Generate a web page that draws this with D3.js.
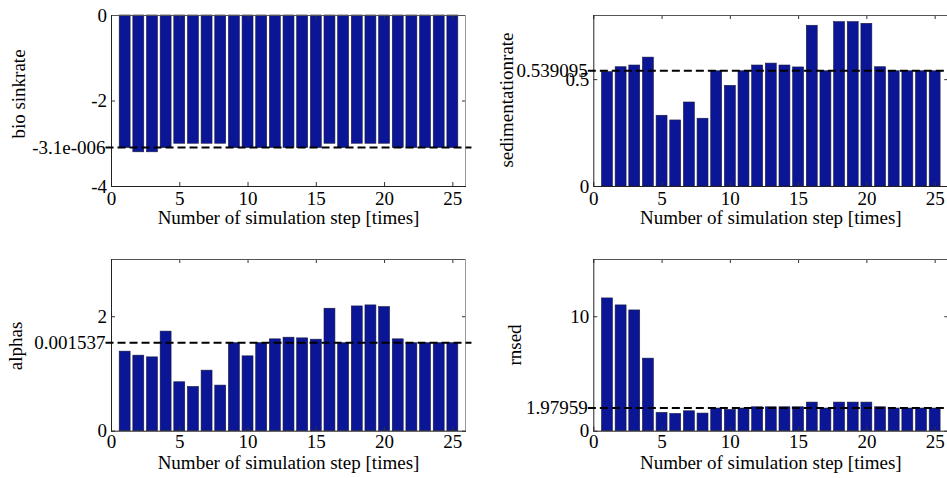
<!DOCTYPE html>
<html>
<head>
<meta charset="utf-8">
<script src="https://cdn.jsdelivr.net/npm/d3@7"></script>
<style>
  html, body { margin: 0; padding: 0; background: #fff; }
  svg { display: block; }
  svg text { font-family: "Times New Roman", "Liberation Serif", "DejaVu Serif", serif !important; fill: #000; }
</style>
</head>
<body>
<svg id="chart" width="947" height="478"></svg>
<script>
// Simulation steps 1..25
const steps = d3.range(1, 26);
const xTicks = [0, 5, 10, 15, 20, 25];
const xLabel = "Number of simulation step [times]";

// bio sinkrate (stored in real units, axis shows multiples of 1e-6)
const bioSinkrate = [-3.1e-6, -3.2e-6, -3.2e-6, -3.1e-6, -3.0e-6, -3.0e-6, -3.0e-6, -3.0e-6, -3.1e-6, -3.1e-6,
                     -3.1e-6, -3.1e-6, -3.1e-6, -3.1e-6, -3.1e-6, -3.0e-6, -3.1e-6, -3.0e-6, -3.0e-6, -3.0e-6,
                     -3.1e-6, -3.1e-6, -3.1e-6, -3.1e-6, -3.1e-6];
const bioTicks = [0, -2e-6, -4e-6];
const bioTickLabels = ["0", "-2", "-4"];
const bioFinal = -3.1e-6, bioFinalLabel = "-3.1e-006";

// sedimentation rate
const sedimentationrate = [0.535, 0.558, 0.566, 0.603, 0.331, 0.309, 0.393, 0.317, 0.539095, 0.471,
                           0.539095, 0.566, 0.575, 0.566, 0.557, 0.752, 0.539095, 0.769, 0.769, 0.761,
                           0.558, 0.539095, 0.539095, 0.539095, 0.539095];
const sedTicks = [0, 0.5];
const sedTickLabels = ["0", "0.5"];
const sedFinal = 0.539095, sedFinalLabel = "0.539095";

// alphas (real units, axis shows multiples of 1e-3)
const alphas = [1.39e-3, 1.32e-3, 1.29e-3, 1.74e-3, 0.855e-3, 0.773e-3, 1.058e-3, 0.797e-3, 1.537e-3, 1.308e-3,
                1.537e-3, 1.605e-3, 1.634e-3, 1.622e-3, 1.599e-3, 2.14e-3, 1.537e-3, 2.18e-3, 2.198e-3, 2.169e-3,
                1.605e-3, 1.537e-3, 1.537e-3, 1.537e-3, 1.537e-3];
const alphaTicks = [0, 2e-3];
const alphaTickLabels = ["0", "2"];
const alphaFinal = 0.001537, alphaFinalLabel = "0.001537";

// sediment error
const rnsed = [11.6, 10.99, 10.55, 6.34, 1.60, 1.51, 1.74, 1.54, 1.97959, 1.86,
               1.97959, 2.09, 2.09, 2.09, 2.09, 2.5, 1.97959, 2.5, 2.5, 2.5,
               2.09, 1.97959, 1.97959, 1.97959, 1.97959];
const rnsedTicks = [0, 10];
const rnsedTickLabels = ["0", "10"];
const rnsedFinal = 1.97959, rnsedFinalLabel = "1.97959";

const svg = d3.select("#chart");
const FONT = 19;
const FAMILY = '"Times New Roman", "Liberation Serif", "DejaVu Serif", serif';
const BAR_FILL = "#0a1696";

function drawPanel(p) {
  const g = svg.append("g").attr("transform", `translate(${p.left},${p.top})`);
  const x = d3.scaleLinear().domain([0, 26]).range([0, p.width]);
  const y = d3.scaleLinear().domain(p.yDomain).range([p.height, 0]);

  // bars
  g.append("g").selectAll("rect").data(p.values).join("rect")
    .attr("x", (d, i) => x(steps[i] - 0.4))
    .attr("width", x(0.8) - x(0))
    .attr("y", d => Math.min(y(0), y(d)))
    .attr("height", d => Math.abs(y(d) - y(0)))
    .attr("fill", BAR_FILL)
    .attr("stroke", "#1a1a40")
    .attr("stroke-width", 0.6);

  // bottom axis with labels (inward ticks)
  const xb = g.append("g").attr("transform", `translate(0,${p.height})`)
    .call(d3.axisBottom(x).tickValues(xTicks).tickSizeInner(-4).tickSizeOuter(0).tickPadding(p.xPad));
  // top ticks
  const xt = g.append("g")
    .call(d3.axisTop(x).tickValues(xTicks).tickSizeInner(-4).tickSizeOuter(0).tickFormat(""));
  // left axis with labels
  const yl = g.append("g")
    .call(d3.axisLeft(y).tickValues(p.ticks).tickFormat((d, i) => p.tickLabels[i])
      .tickSizeInner(-4).tickSizeOuter(0).tickPadding(4));
  // right ticks
  const yr = g.append("g").attr("transform", `translate(${p.width},0)`)
    .call(d3.axisRight(y).tickValues(p.ticks).tickSizeInner(-4).tickSizeOuter(0).tickFormat(""));

  [xb, xt, yl, yr].forEach(a => {
    a.attr("font-family", FAMILY).attr("font-size", FONT);
    a.select(".domain").remove();
    a.selectAll("line").attr("stroke", "#333").attr("stroke-width", 1);
    a.selectAll("text").attr("fill", "#000");
  });
  yl.selectAll("text").attr("dy", "0.32em");

  // axes box
  g.append("line").attr("x1", 0).attr("x2", p.width).attr("y1", 0.5).attr("y2", 0.5)
    .attr("stroke", "#555").attr("stroke-width", 1);
  g.append("line").attr("x1", p.width - 0.5).attr("x2", p.width - 0.5).attr("y1", 0).attr("y2", p.height)
    .attr("stroke", "#999").attr("stroke-width", 1);
  g.append("line").attr("x1", 0.5).attr("x2", 0.5).attr("y1", 0).attr("y2", p.height + 0.5)
    .attr("stroke", "#222").attr("stroke-width", 1);
  g.append("line").attr("x1", 0).attr("x2", p.width).attr("y1", p.height + 0.5).attr("y2", p.height + 0.5)
    .attr("stroke", "#222").attr("stroke-width", 1);

  // final value reference line
  g.append("line")
    .attr("x1", x(-0.4)).attr("x2", x(26.4))
    .attr("y1", y(p.final)).attr("y2", y(p.final))
    .attr("stroke", "#000").attr("stroke-width", 2)
    .attr("stroke-dasharray", "8,4");
  g.append("text")
    .attr("x", x(-0.4)).attr("y", y(p.final)).attr("dy", "0.32em")
    .attr("text-anchor", "end").attr("font-size", FONT).attr("font-family", FAMILY)
    .text(p.finalLabel);

  // axis titles
  g.append("text")
    .attr("x", p.width / 2).attr("y", p.height + p.xLabelOffset)
    .attr("text-anchor", "middle").attr("font-size", FONT).attr("font-family", FAMILY)
    .text(xLabel);
  g.append("text")
    .attr("transform", `translate(${p.yLabelX - p.left},${p.yLabelY - p.top}) rotate(-90)`)
    .attr("text-anchor", "middle").attr("font-size", FONT).attr("font-family", FAMILY)
    .text(p.yLabel);
}

drawPanel({ left: 111, top: 15, width: 355, height: 171, yDomain: [-4e-6, 0],
  values: bioSinkrate, ticks: bioTicks, tickLabels: bioTickLabels,
  final: bioFinal, finalLabel: bioFinalLabel, yLabel: "bio sinkrate",
  yLabelX: 25, yLabelY: 94, xPad: 5.5, xLabelOffset: 38 });

drawPanel({ left: 593.3, top: 15, width: 355, height: 171, yDomain: [0, 0.8],
  values: sedimentationrate, ticks: sedTicks, tickLabels: sedTickLabels,
  final: sedFinal, finalLabel: sedFinalLabel, yLabel: "sedimentationrate",
  yLabelX: 513, yLabelY: 100, xPad: 5.5, xLabelOffset: 38 });

drawPanel({ left: 111, top: 259, width: 355, height: 171.7, yDomain: [0, 3e-3],
  values: alphas, ticks: alphaTicks, tickLabels: alphaTickLabels,
  final: alphaFinal, finalLabel: alphaFinalLabel, yLabel: "alphas",
  yLabelX: 22, yLabelY: 346, xPad: 4, xLabelOffset: 38.5 });

drawPanel({ left: 593.3, top: 259, width: 355, height: 171.7, yDomain: [0, 15],
  values: rnsed, ticks: rnsedTicks, tickLabels: rnsedTickLabels,
  final: rnsedFinal, finalLabel: rnsedFinalLabel, yLabel: "rnsed",
  yLabelX: 521, yLabelY: 345, xPad: 4, xLabelOffset: 38.5 });
</script>
</body>
</html>
